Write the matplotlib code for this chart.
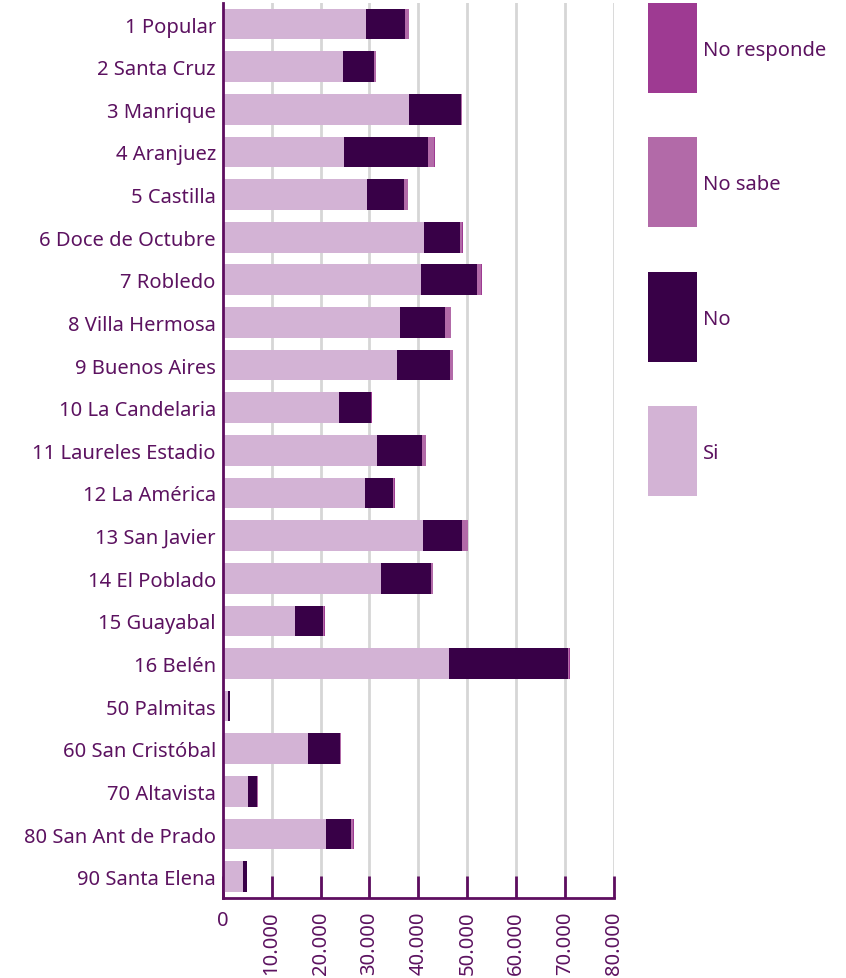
import matplotlib
matplotlib.use("Agg")
import matplotlib.pyplot as plt
import numpy as np
from matplotlib.patches import Rectangle
from matplotlib.ticker import FixedLocator, FuncFormatter

plt.rcParams['font.family'] = ['Noto Sans', 'DejaVu Sans']

comunas = [
    "1 Popular", "2 Santa Cruz", "3 Manrique", "4 Aranjuez", "5 Castilla",
    "6 Doce de Octubre", "7 Robledo", "8 Villa Hermosa", "9 Buenos Aires",
    "10 La Candelaria", "11 Laureles Estadio", "12 La América", "13 San Javier",
    "14 El Poblado", "15 Guayabal", "16 Belén", "50 Palmitas", "60 San Cristóbal",
    "70 Altavista", "80 San Ant de Prado", "90 Santa Elena",
]
si = [29300, 24600, 38100, 24800, 29500, 41200, 40600, 36300, 35600, 23800,
      31600, 29100, 41000, 32400, 14800, 46300, 1100, 17400, 5200, 21100, 4200]
no = [8000, 6400, 10600, 17200, 7600, 7300, 11400, 9200, 10900, 6500,
      9100, 5700, 7900, 10200, 5700, 24300, 400, 6600, 1900, 5100, 800]
no_sabe = [700, 300, 150, 1300, 700, 500, 900, 1100, 500, 100,
           800, 300, 1200, 300, 300, 300, 30, 150, 50, 500, 50]
no_responde = [100, 100, 50, 100, 100, 100, 100, 100, 100, 50,
               100, 100, 100, 100, 100, 100, 10, 50, 20, 100, 20]

series_names = ["Si", "No", "No sabe", "No responde"]
series_colors = ["#d3b3d5", "#380047", "#b26aa8", "#9e3a92"]

x_ticks = [0, 10000, 20000, 30000, 40000, 50000, 60000, 70000, 80000]

text_color = "#5c1260"
axis_color = "#5e0e60"
fs = 14.5

W, H = 846, 979
fig = plt.figure(figsize=(W / 100, H / 100), dpi=100)
ax = fig.add_axes([222.7 / W, 1 - 899 / H, (614 - 222.7) / W, (899 - 3.7) / H])

y = np.arange(len(comunas))
left = np.zeros(len(comunas))
for vals, name, color in zip([si, no, no_sabe, no_responde], series_names, series_colors):
    vals = np.array(vals, dtype=float)
    ax.barh(y, vals, left=left, height=0.72, color=color, label=name,
            linewidth=0, zorder=3)
    left += vals

ax.set_xlim(0, 80000)
ax.set_ylim(len(comunas) - 0.5, -0.5)
ax.set_yticks(y)
ax.set_yticklabels(comunas, fontsize=fs, color=text_color)
ax.tick_params(axis='y', length=0, pad=5)

ax.xaxis.set_major_locator(FixedLocator(x_ticks))
ax.xaxis.set_major_formatter(FuncFormatter(lambda v, p: f"{int(v):,}".replace(",", ".")))
ax.tick_params(axis='x', direction='in', length=16, width=2, color=axis_color,
               labelsize=fs, labelcolor=text_color, pad=9)
for i, lbl in enumerate(ax.get_xticklabels()):
    lbl.set_rotation(0 if i == 0 else 90)
    lbl.set_va('top')
    lbl.set_ha('center')

ax.grid(axis='x', color="#d6d6d6", linewidth=2, zorder=0)
ax.set_axisbelow(True)

for side in ['top', 'right']:
    ax.spines[side].set_visible(False)
for side in ['left', 'bottom']:
    ax.spines[side].set_color(axis_color)
    ax.spines[side].set_linewidth(2)
    ax.spines[side].set_zorder(4)

# Legend: tall colour swatches stacked top to bottom, last series first
box_x, box_w, box_h, box_top, step = 648, 49, 90, 4, 134.3
for i, (name, color) in enumerate(zip(series_names[::-1], series_colors[::-1])):
    top = box_top + i * step
    fig.patches.append(Rectangle((box_x / W, 1 - (top + box_h) / H), box_w / W, box_h / H,
                                 transform=fig.transFigure, facecolor=color,
                                 linewidth=0, figure=fig))
    fig.text((box_x + box_w + 6) / W, 1 - (top + box_h / 2 + 2) / H, name,
             fontsize=fs, color=text_color, ha='left', va='center')

fig.savefig("out.png", dpi=100)
